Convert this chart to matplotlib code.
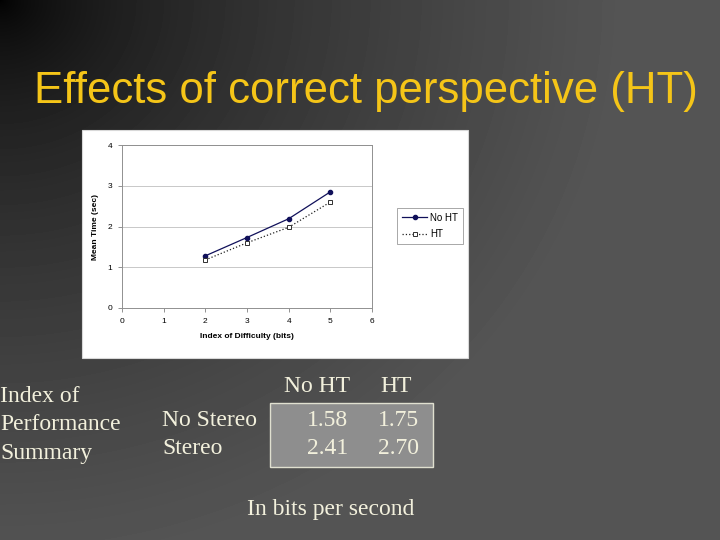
import matplotlib
matplotlib.use('Agg')
import matplotlib.pyplot as plt
from matplotlib.patches import Rectangle
import numpy as np

# chart data
difficulty = [2, 3, 4, 5]
no_ht_time = [1.28, 1.73, 2.19, 2.85]
ht_time = [1.18, 1.60, 1.98, 2.60]

# table data
col_labels = ["No HT", "HT"]
row_labels = ["No Stereo", "Stereo"]
ip_values = [["1.58", "1.75"], ["2.41", "2.70"]]
side_lines = ["Index of", "Performance", "Summary"]

W, H = 720, 540
fig = plt.figure(figsize=(7.2, 5.4), dpi=100)

# dark gradient background, black in the top-left corner
bg = fig.add_axes([0, 0, 1, 1], zorder=0)
yy, xx = np.mgrid[0:H, 0:W]
d = np.sqrt(xx ** 2 + (yy * 1.1) ** 2)
shade = 0.33 * np.clip(d / 620, 0, 1) ** 0.6
bg.imshow(shade, cmap='gray', vmin=0, vmax=1, extent=[0, W, H, 0], aspect='auto')
bg.set_xlim(0, W)
bg.set_ylim(H, 0)
bg.axis('off')

serif = 'Liberation Serif'
sans = 'Liberation Sans'
cream = '#f2f0dc'
fs = 17

bg.text(366, 91, "Effects of correct perspective (HT)", color='#f5c518',
        fontsize=31.5, family=sans, ha='center', va='center')

# white chart panel
bg.add_patch(Rectangle((82, 130), 386, 228, facecolor='white',
                       edgecolor='#d8d8d8', lw=0.8))

ax = fig.add_axes([122 / W, 1 - 308 / H, 250 / W, 163 / H], zorder=2)
ax.plot(difficulty, no_ht_time, '-', color='#10105a', lw=0.9, marker='o',
        ms=3, mfc='#10105a', mec='#10105a', label='No HT')
ax.plot(difficulty, ht_time, ':', color='#202020', lw=0.9, marker='s',
        ms=3.5, mfc='white', mec='#303030', mew=0.7, label='HT')
ax.set_xlim(0, 6)
ax.set_ylim(0, 4)
ax.set_xticks(range(7))
ax.set_yticks(range(5))
ax.grid(axis='y', color='#c8c8c8', lw=0.7)
ax.set_axisbelow(True)
for s in ax.spines.values():
    s.set_color('#909090')
    s.set_linewidth(0.7)
ax.tick_params(labelsize=6, length=3, width=0.6, color='#808080', pad=4)
for t in ax.get_xticklabels() + ax.get_yticklabels():
    t.set_family(sans)
ax.set_xlabel("Index of Difficulty (bits)", fontsize=6, fontweight='bold',
              family=sans, labelpad=6)
ax.set_ylabel("Mean Time (sec)", fontsize=6, fontweight='bold',
              family=sans, labelpad=6)
leg = ax.legend(loc='center left', bbox_to_anchor=(397 / W, 1 - 226 / H),
                bbox_transform=fig.transFigure, prop={'family': sans, 'size': 7},
                frameon=True, fancybox=False, handlelength=2.6, handletextpad=0.3,
                borderpad=0.5, labelspacing=0.7, borderaxespad=0)
leg.get_frame().set_edgecolor('#808080')
leg.get_frame().set_linewidth(0.6)

# summary table
for y, line in zip([396, 425, 454], side_lines):
    bg.text(0, y, line, color=cream, fontsize=fs, family=serif,
            ha='left', va='center')
col_x = [317, 396]
val_x = [348, 419]
row_y = [420, 449]
for x, lab in zip(col_x, col_labels):
    bg.text(x, 387, lab, color=cream, fontsize=fs, family=serif,
            ha='center', va='center')
for y, lab in zip(row_y, row_labels):
    bg.text(162, y, lab, color=cream, fontsize=fs, family=serif,
            ha='left', va='center')
bg.add_patch(Rectangle((270, 403), 163, 64, facecolor='#8e8e8e',
                       edgecolor='#e0e0d0', lw=1.0))
for i, y in enumerate(row_y):
    for j, x in enumerate(val_x):
        bg.text(x, y, ip_values[i][j], color=cream, fontsize=fs,
                family=serif, ha='right', va='center')

bg.text(331, 510, "In bits per second", color=cream, fontsize=fs,
        family=serif, ha='center', va='center')

fig.savefig('out.png', dpi=100)
